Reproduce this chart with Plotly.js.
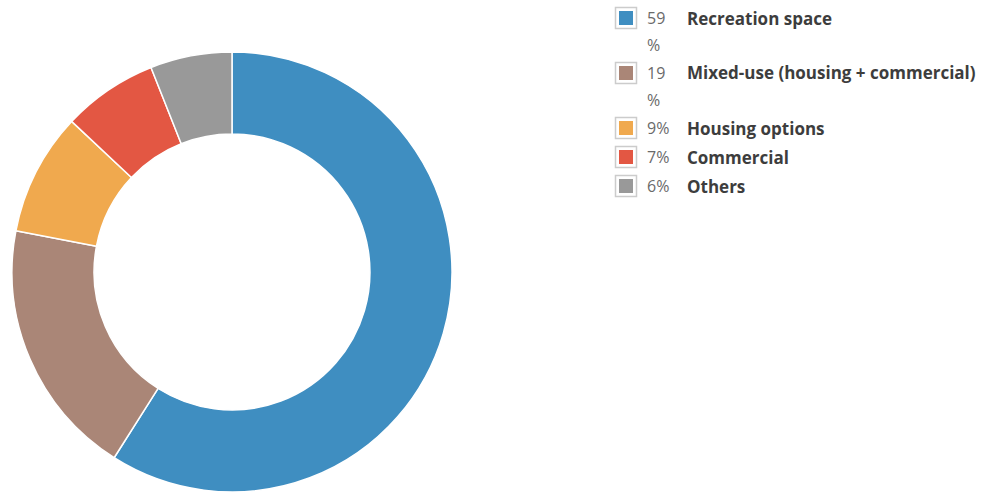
<!DOCTYPE html>
<html>
<head>
<meta charset="utf-8">
<script src="https://cdn.plot.ly/plotly-3.0.1.min.js"></script>
<style>html,body{margin:0;padding:0;background:#fff;}#chart{width:987px;height:493px;}</style>
</head>
<body>
<div id="chart"></div>
<script>
const labels = ["Recreation space", "Mixed-use (housing + commercial)", "Housing options", "Commercial", "Others"];
const values = [59, 19, 9, 7, 6];
const colors = ["#3f8ec1", "#aa8677", "#f0a94e", "#e35743", "#999999"];

const W = 987, H = 493;
const px = x => x / W;
const py = y => 1 - y / H;

const shapes = [];
const annotations = [];
let cy = 18;
values.forEach((v, i) => {
  const wrap = v >= 10;
  // legend swatch
  shapes.push({type: "rect", xref: "paper", yref: "paper",
    x0: px(615.5), x1: px(636.5), y0: py(cy - 10.5), y1: py(cy + 10.5),
    fillcolor: "#ffffff", line: {color: "#cccccc", width: 1.5}});
  shapes.push({type: "rect", xref: "paper", yref: "paper",
    x0: px(619), x1: px(633), y0: py(cy - 7), y1: py(cy + 7),
    fillcolor: colors[i], line: {width: 0}});
  annotations.push({xref: "paper", yref: "paper", x: px(645), y: py(cy),
    xanchor: "left", yanchor: "middle", showarrow: false,
    text: wrap ? String(v) : v + "%",
    font: {family: "Open Sans", size: 16, color: "#6a6a6a"}});
  if (wrap) {
    annotations.push({xref: "paper", yref: "paper", x: px(645), y: py(cy + 27),
      xanchor: "left", yanchor: "middle", showarrow: false, text: "%",
      font: {family: "Open Sans", size: 16, color: "#6a6a6a"}});
  }
  annotations.push({xref: "paper", yref: "paper", x: px(685), y: py(cy),
    xanchor: "left", yanchor: "middle", showarrow: false,
    text: "<b>" + labels[i] + "</b>",
    font: {family: "Open Sans", size: 17, color: "#3d3d3d"}});
  cy += wrap ? 55 : 29;
});

const data = [{
  type: "pie",
  labels: labels,
  values: values,
  hole: 0.627,
  sort: false,
  direction: "clockwise",
  rotation: 0,
  textinfo: "none",
  hoverinfo: "label+percent",
  marker: {colors: colors, line: {color: "#ffffff", width: 1.5}},
  domain: {x: [px(12), px(452)], y: [py(492), py(52)]},
  showlegend: false
}];

const layout = {
  width: W, height: H,
  margin: {l: 0, r: 0, t: 0, b: 0},
  paper_bgcolor: "#ffffff",
  plot_bgcolor: "#ffffff",
  showlegend: false,
  font: {family: "Open Sans"},
  shapes: shapes,
  annotations: annotations
};

Plotly.newPlot("chart", data, layout, {displayModeBar: false, staticPlot: true});
</script>
</body>
</html>
